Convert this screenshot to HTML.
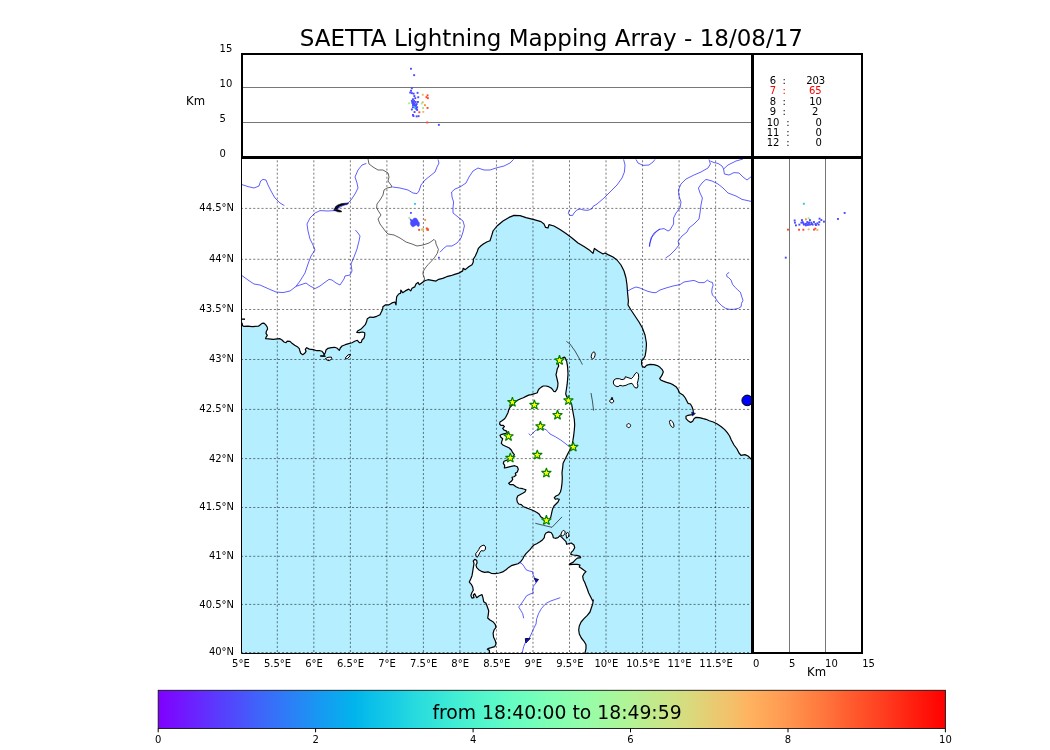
<!DOCTYPE html>
<html><head><meta charset="utf-8"><title>SAETTA Lightning Mapping Array</title>
<style>html,body{margin:0;padding:0;background:#fff}svg{display:block}text{font-family:"DejaVu Sans","Liberation Sans",sans-serif}</style></head><body>
<svg width="1050" height="750" viewBox="0 0 1050 750">
<rect width="1050" height="750" fill="#fff"/>
<defs><linearGradient id="rb" x1="0" x2="1" y1="0" y2="0"><stop offset="0.0%" stop-color="#8000ff"/><stop offset="2.5%" stop-color="#7413ff"/><stop offset="5.0%" stop-color="#6826fe"/><stop offset="7.5%" stop-color="#5a3bfd"/><stop offset="10.0%" stop-color="#4e4dfc"/><stop offset="12.5%" stop-color="#4062fa"/><stop offset="15.0%" stop-color="#3473f8"/><stop offset="17.5%" stop-color="#2884f6"/><stop offset="20.0%" stop-color="#1996f3"/><stop offset="22.5%" stop-color="#0ea5ef"/><stop offset="25.0%" stop-color="#00b5eb"/><stop offset="27.5%" stop-color="#0dc2e8"/><stop offset="30.0%" stop-color="#18cde4"/><stop offset="32.5%" stop-color="#27dade"/><stop offset="35.0%" stop-color="#32e3da"/><stop offset="37.5%" stop-color="#40ecd4"/><stop offset="40.0%" stop-color="#4df3ce"/><stop offset="42.5%" stop-color="#58f8c9"/><stop offset="45.0%" stop-color="#66fcc2"/><stop offset="47.5%" stop-color="#72febb"/><stop offset="50.0%" stop-color="#80ffb4"/><stop offset="52.5%" stop-color="#8cfead"/><stop offset="55.0%" stop-color="#99fca6"/><stop offset="57.5%" stop-color="#a6f89d"/><stop offset="60.0%" stop-color="#b2f396"/><stop offset="62.5%" stop-color="#c0eb8d"/><stop offset="65.0%" stop-color="#cce385"/><stop offset="67.5%" stop-color="#d9da7d"/><stop offset="70.0%" stop-color="#e6cd73"/><stop offset="72.5%" stop-color="#f2c26b"/><stop offset="75.0%" stop-color="#ffb360"/><stop offset="77.5%" stop-color="#ffa558"/><stop offset="80.0%" stop-color="#ff964f"/><stop offset="82.5%" stop-color="#ff8444"/><stop offset="85.0%" stop-color="#ff733b"/><stop offset="87.5%" stop-color="#ff5f30"/><stop offset="90.0%" stop-color="#ff4d27"/><stop offset="92.5%" stop-color="#ff3b1e"/><stop offset="95.0%" stop-color="#ff2613"/><stop offset="97.5%" stop-color="#ff1309"/><stop offset="100.0%" stop-color="#ff0000"/></linearGradient>
<clipPath id="mc"><rect x="241" y="157" width="511" height="497"/></clipPath></defs>
<text x="551.3" y="46" font-size="23" text-anchor="middle">SAETTA Lightning Mapping Array - 18/08/17</text>
<g clip-path="url(#mc)">
<rect x="241" y="157" width="511" height="497" fill="#b4eeff"/>
<path d="M230,150 L230,323 L230,323 L242,323 L242.6,325.8 L244,326.4 L248,326.2 L252,326.6 L258.4,326.2 L260,325 L262,323.4 L264,323.2 L265.6,324.6 L267.2,327 L267.6,329 L266.4,331.2 L266,333.3 L267.3,335.3 L266,337.3 L265.6,338.7 L268.7,338.9 L273.3,339.3 L277.3,338.9 L280,338.7 L282,340 L284,342 L286,342.7 L287.3,341.1 L290,341.3 L292,343.3 L294.7,345.3 L297.3,346.7 L299.3,348.7 L300,351.3 L300.7,353.3 L302.7,354.7 L304.7,353.3 L306,351.3 L305.3,349.3 L306.7,347.7 L309.3,349.1 L313.3,349.6 L316.7,350.7 L320,350.7 L322,351.3 L323.7,353.3 L324,355.3 L325.3,352.7 L326,350 L328,348.3 L331.3,347.7 L334.7,347.3 L337.3,348.3 L339.3,350.4 L340.3,348 L342,346 L345.3,344.7 L348.7,343.7 L352,342.7 L354.7,341.3 L357.3,340.3 L359.3,342.7 L361.3,342.4 L362,340 L364,338 L364.7,335.3 L364.7,332.7 L362.7,332 L359.3,332.7 L356.7,332.3 L358,330.7 L360.7,329.3 L362.7,327.3 L365.3,324.7 L366.7,321.3 L367.3,318.7 L370,317.1 L373.3,317.3 L376.7,316.3 L380,314.7 L381.3,312 L382.7,309.3 L382.9,306.7 L385.3,304.9 L388.7,304.9 L392,302.9 L394.9,302 L396,304.9 L396.3,300 L396.7,296.7 L398.7,294 L400.7,293.1 L400.8,290.1 L402.7,292.7 L405.3,290.9 L408.7,289.1 L410.7,290.9 L412,288.3 L414.7,286.9 L416,284 L418,282.4 L418.9,284 L419.3,284.7 L422,282.7 L424.7,280.7 L428,279.7 L432,280.4 L436,281.1 L438.7,279.3 L442.7,278.4 L446.7,276.7 L450.7,275.7 L454.7,274.4 L458.7,273.1 L462.7,270.9 L463.1,268.4 L465.3,269.6 L468.7,266.7 L472,264.7 L473.3,262 L473.3,259.3 L475.3,256 L477.1,252 L478.4,248.3 L480.7,246 L483.3,244 L486.7,242 L490,240.7 L492,234.6 L493,231 L497,226 L503,221 L509,217.4 L514,215.4 L520,215.6 L526,217.6 L534,219.6 L541,221.6 L544,224 L545.6,227.4 L548,228 L549,224.6 L554,226 L560,229.4 L566,233.6 L572,238 L578,243 L584,246.6 L590,250.6 L593,253.4 L594.4,248.4 L598,251 L603,254 L605,253 L608,254.6 L613,257 L617,260 L621,265 L624,271 L626,278 L627,285 L627.6,293 L628.4,301 L628,305 L631,310 L635,316 L639,322 L642.4,328 L645,335 L646.4,343 L646.4,345.3 L646,350.7 L645.1,356 L643.3,359.3 L641.6,360.7 L641.6,364 L642.4,366.7 L644.7,367.3 L646.4,365.3 L650,364.3 L654,364.7 L657.3,365.6 L660,367.3 L662,369.3 L663.3,371.7 L662.4,374.4 L661.1,376.7 L659.7,378.7 L660.7,380 L663.3,381.1 L666.7,382.4 L670,383.3 L673.3,384.9 L676,386.7 L678,389.3 L679.3,392.7 L681.3,394 L683.3,395.3 L685.3,398 L686.7,400.7 L688,403.3 L690.4,404 L692,406.7 L693.1,410 L693.3,412.7 L692.7,414.7 L690.7,414.9 L688,415.3 L686,416.3 L686,418.7 L688,420.7 L690.7,422.4 L692.7,421.3 L694,418.7 L696,417.3 L699.3,417.7 L703.3,418.7 L706,419.3 L709.3,420.7 L713.3,422 L717.3,424 L721.3,426.7 L724.7,429.6 L727.3,432.7 L729.6,436 L731.3,440 L734,445 L737,449 L739,453 L741,455.4 L745,454.6 L748,456 L751,459 L756,462 L760,462 L760,150Z" fill="#fff"/>
<path d="M230,323 L242,323 L242.6,325.8 L244,326.4 L248,326.2 L252,326.6 L258.4,326.2 L260,325 L262,323.4 L264,323.2 L265.6,324.6 L267.2,327 L267.6,329 L266.4,331.2 L266,333.3 L267.3,335.3 L266,337.3 L265.6,338.7 L268.7,338.9 L273.3,339.3 L277.3,338.9 L280,338.7 L282,340 L284,342 L286,342.7 L287.3,341.1 L290,341.3 L292,343.3 L294.7,345.3 L297.3,346.7 L299.3,348.7 L300,351.3 L300.7,353.3 L302.7,354.7 L304.7,353.3 L306,351.3 L305.3,349.3 L306.7,347.7 L309.3,349.1 L313.3,349.6 L316.7,350.7 L320,350.7 L322,351.3 L323.7,353.3 L324,355.3 L325.3,352.7 L326,350 L328,348.3 L331.3,347.7 L334.7,347.3 L337.3,348.3 L339.3,350.4 L340.3,348 L342,346 L345.3,344.7 L348.7,343.7 L352,342.7 L354.7,341.3 L357.3,340.3 L359.3,342.7 L361.3,342.4 L362,340 L364,338 L364.7,335.3 L364.7,332.7 L362.7,332 L359.3,332.7 L356.7,332.3 L358,330.7 L360.7,329.3 L362.7,327.3 L365.3,324.7 L366.7,321.3 L367.3,318.7 L370,317.1 L373.3,317.3 L376.7,316.3 L380,314.7 L381.3,312 L382.7,309.3 L382.9,306.7 L385.3,304.9 L388.7,304.9 L392,302.9 L394.9,302 L396,304.9 L396.3,300 L396.7,296.7 L398.7,294 L400.7,293.1 L400.8,290.1 L402.7,292.7 L405.3,290.9 L408.7,289.1 L410.7,290.9 L412,288.3 L414.7,286.9 L416,284 L418,282.4 L418.9,284 L419.3,284.7 L422,282.7 L424.7,280.7 L428,279.7 L432,280.4 L436,281.1 L438.7,279.3 L442.7,278.4 L446.7,276.7 L450.7,275.7 L454.7,274.4 L458.7,273.1 L462.7,270.9 L463.1,268.4 L465.3,269.6 L468.7,266.7 L472,264.7 L473.3,262 L473.3,259.3 L475.3,256 L477.1,252 L478.4,248.3 L480.7,246 L483.3,244 L486.7,242 L490,240.7 L492,234.6 L493,231 L497,226 L503,221 L509,217.4 L514,215.4 L520,215.6 L526,217.6 L534,219.6 L541,221.6 L544,224 L545.6,227.4 L548,228 L549,224.6 L554,226 L560,229.4 L566,233.6 L572,238 L578,243 L584,246.6 L590,250.6 L593,253.4 L594.4,248.4 L598,251 L603,254 L605,253 L608,254.6 L613,257 L617,260 L621,265 L624,271 L626,278 L627,285 L627.6,293 L628.4,301 L628,305 L631,310 L635,316 L639,322 L642.4,328 L645,335 L646.4,343 L646.4,345.3 L646,350.7 L645.1,356 L643.3,359.3 L641.6,360.7 L641.6,364 L642.4,366.7 L644.7,367.3 L646.4,365.3 L650,364.3 L654,364.7 L657.3,365.6 L660,367.3 L662,369.3 L663.3,371.7 L662.4,374.4 L661.1,376.7 L659.7,378.7 L660.7,380 L663.3,381.1 L666.7,382.4 L670,383.3 L673.3,384.9 L676,386.7 L678,389.3 L679.3,392.7 L681.3,394 L683.3,395.3 L685.3,398 L686.7,400.7 L688,403.3 L690.4,404 L692,406.7 L693.1,410 L693.3,412.7 L692.7,414.7 L690.7,414.9 L688,415.3 L686,416.3 L686,418.7 L688,420.7 L690.7,422.4 L692.7,421.3 L694,418.7 L696,417.3 L699.3,417.7 L703.3,418.7 L706,419.3 L709.3,420.7 L713.3,422 L717.3,424 L721.3,426.7 L724.7,429.6 L727.3,432.7 L729.6,436 L731.3,440 L734,445 L737,449 L739,453 L741,455.4 L745,454.6 L748,456 L751,459 L756,462" fill="none" stroke="#000" stroke-width="1.2" stroke-linejoin="round"/>
<path d="M559.3,362 L558,363.3 L558.7,366 L557.3,368.7 L556.7,372 L556,374.7 L556.7,377.3 L557.3,380 L558,383.3 L557.7,386.7 L556.7,389.7 L555.3,391.6 L553.7,391.3 L552.7,389.7 L551.1,388 L548.7,386.7 L546,386 L543.3,386 L541.3,387.1 L539.3,388.7 L538,390.7 L537.3,392.7 L534.7,393.7 L531.3,394.7 L528.7,395.1 L526,396.4 L523.3,397.7 L520.7,398.7 L518,400 L516,401.3 L514,403.3 L512,405.3 L510,407.3 L508.7,410 L508,412.7 L506.7,415.3 L505.7,417.3 L504,419.3 L502,420.7 L500,422 L499.6,424 L500.9,425.3 L503.3,425.3 L504.4,426.7 L502.7,428.4 L504,430 L506.7,431.1 L507.3,432.7 L504.7,433.7 L502,434.3 L500,435.3 L500.9,437.3 L502.7,438.7 L502,440.7 L501.3,443.3 L503.3,445.3 L506.7,446.7 L509.3,448 L511.3,450 L512.7,452.7 L514.3,454.7 L513.3,456.7 L511.3,458.7 L507.3,460 L504,461.3 L503.3,463.3 L504.7,465.3 L504.4,468 L507.3,467.3 L511.3,466.3 L514.7,465.7 L517.3,466.7 L518.3,469.3 L517.3,472 L515.3,473.3 L516,475.3 L514,476.7 L512,477.3 L512.7,479.3 L511.3,481.3 L508.7,483.3 L510,484.7 L513.3,484.7 L516,486.7 L518.7,488 L522.7,488.7 L526,489.7 L524.9,492 L522.7,493.3 L520,494.7 L517.7,496 L516.7,498.7 L517.3,502 L518.7,504 L521.3,504.7 L523.3,506.7 L526,507.6 L528.7,508.7 L532,510 L534.7,511.3 L537.3,512.7 L539.3,514.3 L540.7,516.7 L542.7,518 L544.7,520 L546.7,522 L549.3,519.6 L550.7,517.3 L551.3,514.7 L552,511.3 L552.7,508.7 L554,506 L556,504 L558,502 L559.3,499.3 L557.3,498.7 L555.3,499.3 L554.3,497.7 L556,496 L558.7,494.7 L560.4,492 L561.3,488.7 L562,483.3 L562.3,478 L562,472.7 L562.7,467.3 L563.1,463.3 L564.7,460 L566.7,456 L568.7,452 L570.7,448.7 L572,445.3 L572.9,440.7 L573.7,435.3 L574.3,430 L574.7,424.7 L574.3,419.3 L573.3,414 L572.4,408.7 L571.6,404 L570,401.3 L568,398.7 L566.7,396.7 L565.7,394 L566.3,390 L567.1,384.7 L567.6,379.3 L568,374 L567.7,368.7 L567.6,367.1 L567.3,364.9 L566.9,362.8 L566.7,361.2 L566,360.1 L565.7,359.1 L565.3,358 L564.4,357.1 L562,358.3Z" fill="#fff" stroke="#000" stroke-width="1.2" stroke-linejoin="round"/>
<path d="M489.6,654.7 L489.6,652.7 L489.3,650.4 L487.3,649.3 L488.7,648.3 L491.3,647.7 L494.7,646.7 L496,644 L495.3,640.7 L493.6,637.3 L493.1,633.3 L494,630 L496,627.3 L495.3,624.7 L493.3,622 L490,620 L487.7,618 L488.3,614.7 L488.7,610.7 L487.3,606.7 L486,603.3 L483.7,601.7 L482.9,597.7 L482,594.6 L479.3,595.7 L476.7,597.7 L475.7,595.7 L474.7,593.7 L473.3,595 L474,597.7 L472,598.1 L470.9,595.7 L471.7,593 L473.3,590.3 L472.7,587 L471.3,584.3 L469.3,582.1 L470.7,579 L472,575.7 L472.7,571.7 L473.3,567.7 L474,563.7 L473.3,561 L474.7,559.4 L476.7,560.3 L477.1,563 L476,565 L476.7,567.7 L478.7,569.7 L481.3,571.3 L484.7,572.3 L488,571.9 L491.3,573.3 L495.3,573.7 L499.3,573 L502.7,571.9 L506,569.7 L508.7,567.4 L511.3,565.7 L514.7,564.7 L518,563.7 L520.7,561.7 L522.7,559 L524,556.3 L526,553.7 L528,551.7 L530,549.7 L532,547 L534,545 L536.7,543.7 L540,541.7 L542.7,539.7 L544.3,537.7 L544.7,535 L546,533 L548.7,531.9 L551.3,532.7 L552.7,535 L553.3,537.7 L555.3,538.3 L558,537.7 L560,535.7 L562,537.7 L564,539.7 L566,541.7 L566.7,544.3 L568.7,543.7 L571.3,543 L574,545 L574.7,547.7 L573.3,550.3 L571.3,552.3 L570.7,554.3 L573.3,555 L576.7,555.4 L580,556.3 L580.7,557.7 L577.3,558.1 L575.3,559.9 L573.3,562.1 L570,563.7 L569.3,564.7 L573.3,564.3 L577.3,564.3 L580,565 L579.3,567 L581.3,568.3 L584,570.3 L586,571.7 L584,573.7 L582.7,576.3 L583.3,579.7 L584.7,582.3 L586,585.7 L587.3,589 L588.7,593 L590.7,597 L592.7,601 L593.3,600 L592.7,604 L591.3,608 L590,612 L587.3,615.3 L584,618.7 L581.1,622 L579.3,626 L578.7,630 L579.3,634 L581.3,638 L584,641.3 L586,644.7 L586,648.7 L585.1,652.7 L585.1,654.7" fill="#fff" stroke="#000" stroke-width="1.2" stroke-linejoin="round"/>
<path d="M476,556.3 L475.7,553.7 L477.3,551.7 L478.7,549.7 L480,547 L482,545.7 L484,545 L485.6,547 L485.3,549.7 L483.3,551 L481.3,550.6 L480,552.3 L478.7,555 L477.3,557.3Z" fill="#fff" stroke="#000" stroke-width="1" stroke-linejoin="round"/>
<path d="M560.7,535 L562,531.7 L563.3,530.3 L565.3,531.7 L564.7,534.3 L562.7,535.9Z" fill="#fff" stroke="#000" stroke-width="1" stroke-linejoin="round"/>
<path d="M566,534.3 L567.3,532.3 L569.1,533.7 L568.3,537 L566.7,538.3Z" fill="#fff" stroke="#000" stroke-width="1" stroke-linejoin="round"/>
<path d="M613.3,382 L614,380 L616,378.7 L619.3,378.7 L622,379.7 L624.7,378.9 L625.3,376.7 L628,377.6 L631.3,378.7 L633.3,376.7 L634.9,374 L636.7,372.3 L638.4,374 L638.7,377.3 L638,380.7 L637.3,383.3 L638,386 L637.1,388 L634.9,387.7 L633.3,385.3 L632,383.3 L628.7,384 L626,385.3 L622.7,386 L620,385.3 L618,386.7 L615.3,386 L613.6,384Z" fill="#fff" stroke="#000" stroke-width="1" stroke-linejoin="round"/>
<path d="M594.9,355.9 L594.2,357.5 L593.3,358.6 L592.3,358.9 L591.5,358.2 L591.2,356.7 L591.5,354.9 L592.2,353.3 L593.1,352.2 L594.1,351.9 L594.9,352.6 L595.2,354.1Z" fill="#fff" stroke="#000" stroke-width="1" stroke-linejoin="round"/>
<path d="M613.7,401.1 L613.5,402 L612.7,402.6 L611.7,402.9 L610.7,402.6 L610,402 L609.7,401.1 L610,400.2 L610.7,399.5 L611.7,399.3 L612.7,399.5 L613.5,400.2Z" fill="#fff" stroke="#000" stroke-width="1" stroke-linejoin="round"/>
<path d="M611.2,399.5 L611.5,397.6 L612.5,397.6 L612.7,399.5Z" fill="#fff" stroke="#000" stroke-width="1" stroke-linejoin="round"/>
<path d="M630.6,425.6 L630.3,426.6 L629.6,427.3 L628.7,427.6 L627.7,427.3 L627,426.6 L626.8,425.6 L627,424.6 L627.7,423.9 L628.7,423.6 L629.6,423.9 L630.3,424.6Z" fill="#fff" stroke="#000" stroke-width="1" stroke-linejoin="round"/>
<path d="M673.3,423.1 L673.9,425 L673.9,426.6 L673.4,427.4 L672.4,427.3 L671.2,426.3 L670.2,424.6 L669.6,422.7 L669.5,421.2 L670.1,420.3 L671.1,420.4 L672.2,421.5Z" fill="#fff" stroke="#000" stroke-width="1" stroke-linejoin="round"/>
<path d="M325.3,358.7 L328,357.3 L331.3,357.1 L332,358.7 L329.3,360.7 L327.3,360.3Z" fill="#fff" stroke="#000" stroke-width="1" stroke-linejoin="round"/>
<path d="M345.3,358 L348,354.9 L350.4,354.4 L350,356 L347.3,358.7 L345.6,358.9Z" fill="#fff" stroke="#000" stroke-width="1" stroke-linejoin="round"/>
<path d="M320.4,355.7 L325.3,355.9 L325.3,356.4 L320.4,356.3Z" fill="#fff" stroke="#000" stroke-width="1" stroke-linejoin="round"/>
<path d="M241,319.15 L245,319.15" stroke="#000" stroke-width="1.4"/>
<path d="M333.6,210.4 L335.6,206.5 L337.8,204.9 L341.6,203.6 L345.5,203.2 L348,203 L348.4,203.8 L346.8,204.6 L342.9,205.2 L339.4,206.5 L337.8,208.4 L337.2,209.6 L339.1,210 L341.3,211 L342,211.6 L340.4,212 L337.8,211.8 L335.9,211 L334.3,210.7Z" fill="#000" stroke="#000" stroke-width="0.5" stroke-linejoin="round"/>
<circle cx="335.6" cy="209.5" r="0.6" fill="#00f"/><circle cx="336.6" cy="207.5" r="0.5" fill="#00f"/><circle cx="337.8" cy="206.2" r="0.5" fill="#00f"/>
<circle cx="747.2" cy="400.4" r="5.3" fill="#00f" stroke="#000" stroke-width="1"/>
<path d="M691.6,412.4 L695.4,413.4 L692.6,415.8 Z" fill="#00f" stroke="#000" stroke-width="0.7" stroke-linejoin="round"/>
<path d="M534.2,578.3 L538.5,579.5 L536.2,582.3 Z" fill="#00f" stroke="#000" stroke-width="0.9" stroke-linejoin="round"/>
<path d="M525.3,638.6 L530.3,638.4 L525.8,643 Z" fill="#00f" stroke="#000" stroke-width="0.9" stroke-linejoin="round"/>
<path d="M368,159 L369,164 L373,167 L378,170 L383,170 L388,173 L389,177 L388,181 L391,185 L392,187 L387,188 L384,190 L383,195 L380,200 L377,204 L376.6,208 L379,212 L381,215 L378,219 L380,224 L383,228 L386,232 L388,234 L394,235 L400,238 L406,242 L412,244 L417,246 L423,245 L429,243 L432,241 L434,239.4 L435.6,241 L436,244 L438.4,249.3 L437.3,253.3 L434.7,257.3 L431.3,261.3 L428,264.7 L425.3,268 L423.3,271.3 L422.9,274 L424.3,277.3 L424.7,280.3" fill="none" stroke="#222" stroke-width="0.7" stroke-linejoin="round"/>
<path d="M566.4,341.4 L570,344 L575,351 L579,358 L582.4,364.6" fill="none" stroke="#111" stroke-width="0.7"/>
<path d="M591,393 L592.4,401 L593.6,410.6" fill="none" stroke="#111" stroke-width="0.7"/>
<path d="M535.3,523.3 L543.3,525.3 L552,527.3 L562,516.9" fill="none" stroke="#111" stroke-width="0.7"/>
<path d="M242,184.6 L248,186.6 L254,188 L259,186 L260.6,181 L263,179.4 L266,180 L268,185 L271,191 L275,198 L280,203 L284.4,205.6" fill="none" stroke="#1a1aff" stroke-width="0.7" stroke-linejoin="round"/>
<path d="M366.4,163.4 L362,165 L358,170 L355,177 L357,183 L358,188 L355,194 L351,200 L348,203 L341,206.6 L334,210.6 L328,211 L320,210.6 L315,213 L310,218 L307,224 L308,231 L310,239 L313,245 L315,250 L311,256 L308,264 L305,273 L300,281 L296,286.4 L290,291 L283,292.6 L276,292 L268,288.6 L260,285 L254,284 L248,280 L242,275.6" fill="none" stroke="#1a1aff" stroke-width="0.7" stroke-linejoin="round"/>
<path d="M296,286.4 L300,285 L306,283 L310,286 L315,288.6 L320,286 L324,283 L329,279.4 L332,280 L336,283 L340,285 L344,279 L345,276 L350,275 L352,271 L351,264 L354,257 L357,249 L359,241 L360,236 L358,233 L355.4,230" fill="none" stroke="#1a1aff" stroke-width="0.7" stroke-linejoin="round"/>
<path d="M438,159.4 L439,163 L437,167 L435,172 L430,176 L425,180 L421,185 L419,191 L417,193.6 L413,193 L408,190 L400,188 L392.4,187" fill="none" stroke="#1a1aff" stroke-width="0.7" stroke-linejoin="round"/>
<path d="M452,246 L446.7,246 L443.3,248.7 L440,252.3" fill="none" stroke="#1a1aff" stroke-width="0.7" stroke-linejoin="round"/>
<path d="M513.6,159.4 L510,163 L504,166 L496,168 L490,170 L484,170 L478,168 L473,171 L469,177 L466,183 L460,187 L455,189 L451.6,192 L452,197 L453.6,202 L453,208 L453,213 L458,217 L463,221 L464.4,226 L463,232 L461,238 L457,243 L452,246" fill="none" stroke="#1a1aff" stroke-width="0.7" stroke-linejoin="round"/>
<path d="M623.6,159.4 L625,165 L624.4,172 L622,178 L617,185 L610,192 L604,198 L597,204 L593,206.4 L592,208.7 L588,210.3 L584,210.1 L580,209 L576.7,210.1 L574,213 L572.7,215.4 L570,215.4 L568.4,213.7 L568.9,211 L570,209.7" fill="none" stroke="#1a1aff" stroke-width="0.7" stroke-linejoin="round"/>
<path d="M636,159.4 L638,163 L643,165.4 L649,165 L653,162 L655,159.4" fill="none" stroke="#1a1aff" stroke-width="0.7" stroke-linejoin="round"/>
<path d="M660,229 L656,232 L652,237 L650,243 L649.6,246.6" fill="none" stroke="#1a1aff" stroke-width="0.7" stroke-linejoin="round"/>
<path d="M709,159.4 L710.4,164 L708,168 L701,172 L694,175 L686,179 L681,184 L678.4,190 L679,196 L681,202 L680,208 L676,213 L673.6,218 L673.6,224 L670,230 L668,231 L664,228.6 L659,229.4 L654,233 L651,238 L649.6,244 L649.4,246.6" fill="none" stroke="#1a1aff" stroke-width="0.7" stroke-linejoin="round"/>
<path d="M665.6,258 L670,255 L675,250 L679,245 L678,241 L682,236 L687,232 L689,228 L694,224 L699,219 L700,213 L701,205 L702.4,198 L700,193 L698.4,188 L702,183 L706,179.4 L712,181 L718,184 L723,188 L728,193 L736,196 L742,199.4 L752,201.6" fill="none" stroke="#1a1aff" stroke-width="0.7" stroke-linejoin="round"/>
<path d="M710.4,161 L714,162.6 L718,163.4 L722,166 L723.6,169 L728,165 L736,161 L743,159" fill="none" stroke="#1a1aff" stroke-width="0.7" stroke-linejoin="round"/>
<path d="M723.6,169 L724.4,174 L729,175 L734,172.6 L739,173 L743,177 L747,180 L752,176" fill="none" stroke="#1a1aff" stroke-width="0.7" stroke-linejoin="round"/>
<path d="M627,291.4 L632,288.6 L636,287 L640,288 L643,289.4 L648,291.4 L653,292.6 L656,292.6 L660,290 L666,288 L673,286 L680,284.6 L684,282 L690,281 L694,280.4 L699,282.6 L704,282.6 L704.9,282.2 L707.3,280.1 L710.1,281.9 L712.4,282.4 L713.1,285.2 L712.2,288 L711.7,291.7 L712.4,295 L715.2,297.8 L718,302 L721.7,305.7 L725.5,308.3 L729.2,309.3 L733.9,309.3 L738.5,308.3 L741.1,306.7 L741.5,303.4 L743,300.3 L741.8,296.9 L740.4,292.2 L738.1,290.3 L735.3,287.5 L732.5,284.3 L731.1,280.1 L728.7,277.7 L726.9,276.6 L726.6,274.5 L727.8,273.1 L729.2,272.6" fill="none" stroke="#1a1aff" stroke-width="0.7" stroke-linejoin="round"/>
<path d="M528.7,433.7 L530.7,435.3 L532.7,433.3 L535.3,430.7 L538.7,428.9 L542.7,428.4 L546,429.7 L548.4,432 L550,434 L555.3,436.7 L560.7,440 L566,444 L570,447.3" fill="none" stroke="#1a1aff" stroke-width="0.7" stroke-linejoin="round"/>
<path d="M519.3,562.3 L522,563.7 L524,566.3 L526,569.7 L529.3,571 L532.7,571.7 L533.1,575 L534.7,577.7 L536,579.7 L536,583 L533.3,586.3 L532.7,590.3 L533.3,593 L530,594.1 L526.7,595.7 L524,599.7 L521.3,603.7 L518.7,607 L520.7,610.3 L522.7,613.7 L523.7,618.3" fill="none" stroke="#1a1aff" stroke-width="0.7" stroke-linejoin="round"/>
<path d="M560.3,597.7 L555.3,599.4 L550.7,601 L546.7,603 L544.7,604.7 L541.3,608.7 L538.7,613.3 L536.7,618.7 L536,624 L533.3,629.3 L531.3,634 L529.3,638 L525.3,642.7 L523.7,646.7 L522.7,650.7 L522,653.3" fill="none" stroke="#1a1aff" stroke-width="0.7" stroke-linejoin="round"/>
<path d="M277.31,652.05 V157" stroke="#000" stroke-opacity="0.52" stroke-width="1" stroke-dasharray="2.06 2.055" fill="none"/>
<path d="M313.83,652.05 V157" stroke="#000" stroke-opacity="0.52" stroke-width="1" stroke-dasharray="2.06 2.055" fill="none"/>
<path d="M350.36,652.05 V157" stroke="#000" stroke-opacity="0.52" stroke-width="1" stroke-dasharray="2.06 2.055" fill="none"/>
<path d="M386.88,652.05 V157" stroke="#000" stroke-opacity="0.52" stroke-width="1" stroke-dasharray="2.06 2.055" fill="none"/>
<path d="M423.40,652.05 V157" stroke="#000" stroke-opacity="0.52" stroke-width="1" stroke-dasharray="2.06 2.055" fill="none"/>
<path d="M459.93,652.05 V157" stroke="#000" stroke-opacity="0.52" stroke-width="1" stroke-dasharray="2.06 2.055" fill="none"/>
<path d="M496.45,652.05 V157" stroke="#000" stroke-opacity="0.52" stroke-width="1" stroke-dasharray="2.06 2.055" fill="none"/>
<path d="M532.98,652.05 V157" stroke="#000" stroke-opacity="0.52" stroke-width="1" stroke-dasharray="2.06 2.055" fill="none"/>
<path d="M569.50,652.05 V157" stroke="#000" stroke-opacity="0.52" stroke-width="1" stroke-dasharray="2.06 2.055" fill="none"/>
<path d="M606.03,652.05 V157" stroke="#000" stroke-opacity="0.52" stroke-width="1" stroke-dasharray="2.06 2.055" fill="none"/>
<path d="M642.55,652.05 V157" stroke="#000" stroke-opacity="0.52" stroke-width="1" stroke-dasharray="2.06 2.055" fill="none"/>
<path d="M679.08,652.05 V157" stroke="#000" stroke-opacity="0.52" stroke-width="1" stroke-dasharray="2.06 2.055" fill="none"/>
<path d="M715.61,652.05 V157" stroke="#000" stroke-opacity="0.52" stroke-width="1" stroke-dasharray="2.06 2.055" fill="none"/>
<path d="M240.9,208.4 H752" stroke="#000" stroke-opacity="0.52" stroke-width="1" stroke-dasharray="2.06 2.055" fill="none"/>
<path d="M240.9,259.3 H752" stroke="#000" stroke-opacity="0.52" stroke-width="1" stroke-dasharray="2.06 2.055" fill="none"/>
<path d="M240.9,309.5 H752" stroke="#000" stroke-opacity="0.52" stroke-width="1" stroke-dasharray="2.06 2.055" fill="none"/>
<path d="M240.9,359.5 H752" stroke="#000" stroke-opacity="0.52" stroke-width="1" stroke-dasharray="2.06 2.055" fill="none"/>
<path d="M240.9,409.4 H752" stroke="#000" stroke-opacity="0.52" stroke-width="1" stroke-dasharray="2.06 2.055" fill="none"/>
<path d="M240.9,458.6 H752" stroke="#000" stroke-opacity="0.52" stroke-width="1" stroke-dasharray="2.06 2.055" fill="none"/>
<path d="M240.9,507.5 H752" stroke="#000" stroke-opacity="0.52" stroke-width="1" stroke-dasharray="2.06 2.055" fill="none"/>
<path d="M240.9,556.3 H752" stroke="#000" stroke-opacity="0.52" stroke-width="1" stroke-dasharray="2.06 2.055" fill="none"/>
<path d="M240.9,604.4 H752" stroke="#000" stroke-opacity="0.52" stroke-width="1" stroke-dasharray="2.06 2.055" fill="none"/>
<path d="M240.9,652.5 H752" stroke="#000" stroke-opacity="0.52" stroke-width="1" stroke-dasharray="2.06 2.055" fill="none"/>
<path d="M410,219.2 L410.8,218.8 L411.9,219.9 L413.2,219.2 L413.9,218.1 L415.4,218 L416.7,218.6 L417.7,219.9 L418.4,221.4 L419.4,222.7 L419.5,224.4 L419.2,226.1 L418.2,226.7 L417.1,225.7 L416.4,225 L415.1,225.7 L413.6,226.7 L412.3,226.7 L411.1,225.5 L410.4,224 L410.4,222.4 L410.8,220.9 L410,219.9Z" fill="#4a4aff" stroke="#4a4aff" stroke-width="0.4" stroke-linejoin="round"/>
<rect x="414.1" y="203.0" width="1.8" height="1.8" fill="#1ec8e6"/>
<rect x="410.0" y="212.0" width="1.8" height="1.8" fill="#4a4aff"/>
<rect x="408.4" y="217.0" width="1.8" height="1.8" fill="#9df08c"/>
<rect x="424.2" y="218.9" width="1.9" height="1.9" fill="#ff8c46"/>
<rect x="418.2" y="228.9" width="1.9" height="1.9" fill="#ff4628"/>
<rect x="420.9" y="228.6" width="1.9" height="1.9" fill="#9df08c"/>
<rect x="421.7" y="228.3" width="2.4" height="2.4" fill="#e0be64"/>
<rect x="426.5" y="228.4" width="2.4" height="2.4" fill="#ff4628"/>
<rect x="425.8" y="227.5" width="2.0" height="2.0" fill="#ff4628"/>
<rect x="438.0" y="256.8" width="1.8" height="1.8" fill="#4a4aff"/>
<path d="M559.5,355.3 L560.66,358.8 L564.35,358.82 L561.38,361.01 L562.5,364.53 L559.5,362.38 L556.5,364.53 L557.62,361.01 L554.65,358.82 L558.34,358.8Z" fill="#ffff00" stroke="#008000" stroke-width="1.12" stroke-linejoin="bevel"/>
<path d="M512.4,397.1 L513.56,400.6 L517.25,400.62 L514.28,402.81 L515.4,406.33 L512.4,404.18 L509.4,406.33 L510.52,402.81 L507.55,400.62 L511.24,400.6Z" fill="#ffff00" stroke="#008000" stroke-width="1.12" stroke-linejoin="bevel"/>
<path d="M534.4,399.9 L535.56,403.4 L539.25,403.42 L536.28,405.61 L537.4,409.13 L534.4,406.98 L531.4,409.13 L532.52,405.61 L529.55,403.42 L533.24,403.4Z" fill="#ffff00" stroke="#008000" stroke-width="1.12" stroke-linejoin="bevel"/>
<path d="M568.4,395.4 L569.56,398.9 L573.25,398.92 L570.28,401.11 L571.4,404.63 L568.4,402.48 L565.4,404.63 L566.52,401.11 L563.55,398.92 L567.24,398.9Z" fill="#ffff00" stroke="#008000" stroke-width="1.12" stroke-linejoin="bevel"/>
<path d="M557.5,410 L558.66,413.5 L562.35,413.52 L559.38,415.71 L560.5,419.23 L557.5,417.08 L554.5,419.23 L555.62,415.71 L552.65,413.52 L556.34,413.5Z" fill="#ffff00" stroke="#008000" stroke-width="1.12" stroke-linejoin="bevel"/>
<path d="M540.4,421.3 L541.56,424.8 L545.25,424.82 L542.28,427.01 L543.4,430.53 L540.4,428.38 L537.4,430.53 L538.52,427.01 L535.55,424.82 L539.24,424.8Z" fill="#ffff00" stroke="#008000" stroke-width="1.12" stroke-linejoin="bevel"/>
<path d="M508.5,431.2 L509.66,434.7 L513.35,434.72 L510.38,436.91 L511.5,440.43 L508.5,438.28 L505.5,440.43 L506.62,436.91 L503.65,434.72 L507.34,434.7Z" fill="#ffff00" stroke="#008000" stroke-width="1.12" stroke-linejoin="bevel"/>
<path d="M573.3,441.9 L574.46,445.4 L578.15,445.42 L575.18,447.61 L576.3,451.13 L573.3,448.98 L570.3,451.13 L571.42,447.61 L568.45,445.42 L572.14,445.4Z" fill="#ffff00" stroke="#008000" stroke-width="1.12" stroke-linejoin="bevel"/>
<path d="M537.3,449.9 L538.46,453.4 L542.15,453.42 L539.18,455.61 L540.3,459.13 L537.3,456.98 L534.3,459.13 L535.42,455.61 L532.45,453.42 L536.14,453.4Z" fill="#ffff00" stroke="#008000" stroke-width="1.12" stroke-linejoin="bevel"/>
<path d="M510.3,452.9 L511.46,456.4 L515.15,456.42 L512.18,458.61 L513.3,462.13 L510.3,459.98 L507.3,462.13 L508.42,458.61 L505.45,456.42 L509.14,456.4Z" fill="#ffff00" stroke="#008000" stroke-width="1.12" stroke-linejoin="bevel"/>
<path d="M546.4,467.9 L547.56,471.4 L551.25,471.42 L548.28,473.61 L549.4,477.13 L546.4,474.98 L543.4,477.13 L544.52,473.61 L541.55,471.42 L545.24,471.4Z" fill="#ffff00" stroke="#008000" stroke-width="1.12" stroke-linejoin="bevel"/>
<path d="M546.4,515.3 L547.56,518.8 L551.25,518.82 L548.28,521.01 L549.4,524.53 L546.4,522.38 L543.4,524.53 L544.52,521.01 L541.55,518.82 L545.24,518.8Z" fill="#ffff00" stroke="#008000" stroke-width="1.12" stroke-linejoin="bevel"/>
</g>
<path d="M241.5,157.5 V653.5 H752" fill="none" stroke="#000" stroke-width="1"/>
<path d="M242,87.5 H752" stroke="#777" stroke-width="1"/>
<path d="M242,122.5 H752" stroke="#777" stroke-width="1"/>
<path d="M789.5,158 V653" stroke="#777" stroke-width="1"/>
<path d="M825.5,158 V653" stroke="#777" stroke-width="1"/>
<rect x="410.0" y="67.8" width="1.9" height="1.9" fill="#4a4aff"/>
<rect x="413.2" y="74.2" width="1.9" height="1.9" fill="#4a4aff"/>
<rect x="410.9" y="87.3" width="1.9" height="1.9" fill="#4a4aff"/>
<rect x="410.1" y="89.8" width="1.9" height="1.9" fill="#4a4aff"/>
<rect x="409.3" y="91.6" width="1.9" height="1.9" fill="#4a4aff"/>
<rect x="410.9" y="92.2" width="1.9" height="1.9" fill="#4a4aff"/>
<rect x="412.7" y="92.7" width="1.9" height="1.9" fill="#4a4aff"/>
<rect x="416.6" y="91.9" width="1.9" height="1.9" fill="#4a4aff"/>
<rect x="413.4" y="95.1" width="1.9" height="1.9" fill="#4a4aff"/>
<rect x="417.3" y="96.3" width="1.9" height="1.9" fill="#4a4aff"/>
<rect x="414.3" y="97.2" width="1.9" height="1.9" fill="#4a4aff"/>
<rect x="412.0" y="98.3" width="1.9" height="1.9" fill="#4a4aff"/>
<rect x="410.9" y="99.9" width="1.9" height="1.9" fill="#4a4aff"/>
<rect x="413.1" y="99.9" width="1.9" height="1.9" fill="#4a4aff"/>
<rect x="414.7" y="101.0" width="1.9" height="1.9" fill="#4a4aff"/>
<rect x="417.0" y="101.0" width="1.9" height="1.9" fill="#4a4aff"/>
<rect x="411.4" y="102.0" width="1.9" height="1.9" fill="#4a4aff"/>
<rect x="413.6" y="102.6" width="1.9" height="1.9" fill="#4a4aff"/>
<rect x="415.7" y="103.1" width="1.9" height="1.9" fill="#4a4aff"/>
<rect x="412.0" y="104.2" width="1.9" height="1.9" fill="#4a4aff"/>
<rect x="414.1" y="104.7" width="1.9" height="1.9" fill="#4a4aff"/>
<rect x="416.2" y="106.3" width="1.9" height="1.9" fill="#4a4aff"/>
<rect x="412.0" y="106.3" width="1.9" height="1.9" fill="#4a4aff"/>
<rect x="414.7" y="107.4" width="1.9" height="1.9" fill="#4a4aff"/>
<rect x="410.9" y="108.5" width="1.9" height="1.9" fill="#4a4aff"/>
<rect x="416.2" y="109.0" width="1.9" height="1.9" fill="#4a4aff"/>
<rect x="413.6" y="111.1" width="1.9" height="1.9" fill="#4a4aff"/>
<rect x="412.0" y="114.0" width="1.9" height="1.9" fill="#4a4aff"/>
<rect x="412.5" y="115.1" width="1.9" height="1.9" fill="#4a4aff"/>
<rect x="415.7" y="115.4" width="1.9" height="1.9" fill="#4a4aff"/>
<rect x="417.6" y="115.2" width="1.9" height="1.9" fill="#4a4aff"/>
<rect x="437.9" y="123.9" width="1.9" height="1.9" fill="#4a4aff"/>
<rect x="412.7" y="101.5" width="1.9" height="1.9" fill="#4a4aff"/>
<rect x="412.3" y="102.9" width="1.9" height="1.9" fill="#4a4aff"/>
<rect x="413.4" y="104.0" width="1.9" height="1.9" fill="#4a4aff"/>
<rect x="415.1" y="104.2" width="1.9" height="1.9" fill="#4a4aff"/>
<rect x="411.7" y="101.0" width="1.9" height="1.9" fill="#4a4aff"/>
<rect x="414.7" y="105.8" width="1.9" height="1.9" fill="#4a4aff"/>
<rect x="415.5" y="107.9" width="1.9" height="1.9" fill="#4a4aff"/>
<rect x="413.9" y="106.5" width="1.9" height="1.9" fill="#1ec8e6"/>
<rect x="408.2" y="102.3" width="1.9" height="1.9" fill="#9df08c"/>
<rect x="420.8" y="102.6" width="1.9" height="1.9" fill="#9df08c"/>
<rect x="422.1" y="107.1" width="1.9" height="1.9" fill="#9df08c"/>
<rect x="421.8" y="93.8" width="1.9" height="1.9" fill="#e0be64"/>
<rect x="421.8" y="101.3" width="1.9" height="1.9" fill="#e0be64"/>
<rect x="422.3" y="110.9" width="1.9" height="1.9" fill="#e0be64"/>
<rect x="424.0" y="104.2" width="1.9" height="1.9" fill="#ff8c46"/>
<rect x="426.6" y="94.4" width="1.9" height="1.9" fill="#ff4628"/>
<rect x="425.5" y="96.2" width="1.9" height="1.9" fill="#ff4628"/>
<rect x="426.9" y="97.2" width="1.9" height="1.9" fill="#ff4628"/>
<rect x="426.6" y="107.0" width="1.9" height="1.9" fill="#ff4628"/>
<rect x="418.4" y="111.3" width="1.9" height="1.9" fill="#ff4628"/>
<rect x="426.3" y="121.5" width="1.9" height="1.9" fill="#ff4628"/>
<rect x="802.9" y="202.8" width="1.9" height="1.9" fill="#1ec8e6"/>
<rect x="843.7" y="212.0" width="1.9" height="1.9" fill="#4a4aff"/>
<rect x="837.0" y="218.0" width="1.9" height="1.9" fill="#4a4aff"/>
<rect x="784.8" y="256.7" width="1.9" height="1.9" fill="#4a4aff"/>
<rect x="793.7" y="219.5" width="1.9" height="1.9" fill="#4a4aff"/>
<rect x="794.0" y="221.7" width="1.9" height="1.9" fill="#4a4aff"/>
<rect x="795.0" y="224.4" width="1.9" height="1.9" fill="#4a4aff"/>
<rect x="798.4" y="223.7" width="1.9" height="1.9" fill="#4a4aff"/>
<rect x="801.0" y="219.1" width="1.9" height="1.9" fill="#4a4aff"/>
<rect x="801.7" y="221.1" width="1.9" height="1.9" fill="#4a4aff"/>
<rect x="802.4" y="222.4" width="1.9" height="1.9" fill="#4a4aff"/>
<rect x="804.4" y="223.1" width="1.9" height="1.9" fill="#4a4aff"/>
<rect x="805.0" y="224.4" width="1.9" height="1.9" fill="#4a4aff"/>
<rect x="806.4" y="221.1" width="1.9" height="1.9" fill="#4a4aff"/>
<rect x="807.7" y="222.4" width="1.9" height="1.9" fill="#4a4aff"/>
<rect x="809.0" y="223.7" width="1.9" height="1.9" fill="#4a4aff"/>
<rect x="809.0" y="219.1" width="1.9" height="1.9" fill="#4a4aff"/>
<rect x="810.4" y="221.7" width="1.9" height="1.9" fill="#4a4aff"/>
<rect x="811.7" y="223.7" width="1.9" height="1.9" fill="#4a4aff"/>
<rect x="813.0" y="221.1" width="1.9" height="1.9" fill="#4a4aff"/>
<rect x="814.4" y="223.1" width="1.9" height="1.9" fill="#4a4aff"/>
<rect x="816.4" y="222.4" width="1.9" height="1.9" fill="#4a4aff"/>
<rect x="817.7" y="223.7" width="1.9" height="1.9" fill="#4a4aff"/>
<rect x="818.4" y="221.1" width="1.9" height="1.9" fill="#4a4aff"/>
<rect x="818.6" y="217.7" width="1.9" height="1.9" fill="#4a4aff"/>
<rect x="820.4" y="219.1" width="1.9" height="1.9" fill="#4a4aff"/>
<rect x="823.0" y="220.7" width="1.9" height="1.9" fill="#4a4aff"/>
<rect x="803.0" y="223.7" width="1.9" height="1.9" fill="#4a4aff"/>
<rect x="805.7" y="222.7" width="1.9" height="1.9" fill="#4a4aff"/>
<rect x="807.0" y="224.0" width="1.9" height="1.9" fill="#4a4aff"/>
<rect x="808.4" y="221.5" width="1.9" height="1.9" fill="#4a4aff"/>
<rect x="811.0" y="223.1" width="1.9" height="1.9" fill="#4a4aff"/>
<rect x="815.0" y="224.1" width="1.9" height="1.9" fill="#4a4aff"/>
<rect x="800.4" y="221.7" width="1.9" height="1.9" fill="#4a4aff"/>
<rect x="805.0" y="218.4" width="1.9" height="1.9" fill="#ff8c46"/>
<rect x="807.7" y="217.3" width="1.9" height="1.9" fill="#9df08c"/>
<rect x="787.0" y="228.7" width="1.9" height="1.9" fill="#ff4628"/>
<rect x="798.1" y="228.8" width="1.9" height="1.9" fill="#ff4628"/>
<rect x="802.4" y="228.8" width="1.9" height="1.9" fill="#ff4628"/>
<rect x="813.0" y="228.7" width="1.9" height="1.9" fill="#ff4628"/>
<rect x="814.4" y="227.7" width="1.9" height="1.9" fill="#ff4628"/>
<rect x="807.7" y="228.4" width="1.9" height="1.9" fill="#e0be64"/>
<rect x="816.4" y="229.1" width="1.9" height="1.9" fill="#e0be64"/>
<path d="M242,157.5 V54 H862 V653 H752.5" fill="none" stroke="#000" stroke-width="2" stroke-linejoin="miter"/>
<path d="M752.5,53 V654" stroke="#000" stroke-width="3" fill="none"/>
<path d="M241,157.5 H863" stroke="#000" stroke-width="3" fill="none"/>
<text x="219.6" y="51.6" font-size="10" text-anchor="start">15</text>
<text x="219.6" y="87.0" font-size="10" text-anchor="start">10</text>
<text x="219.6" y="121.8" font-size="10" text-anchor="start">5</text>
<text x="219.6" y="156.79999999999998" font-size="10" text-anchor="start">0</text>
<text x="195.6" y="104.8" font-size="11.7" text-anchor="middle">Km</text>
<text x="234.1" y="211.1" font-size="10" text-anchor="end">44.5°N</text>
<text x="234.1" y="262.1" font-size="10" text-anchor="end">44°N</text>
<text x="234.1" y="312.1" font-size="10" text-anchor="end">43.5°N</text>
<text x="234.1" y="362.40000000000003" font-size="10" text-anchor="end">43°N</text>
<text x="234.1" y="412.1" font-size="10" text-anchor="end">42.5°N</text>
<text x="234.1" y="461.6" font-size="10" text-anchor="end">42°N</text>
<text x="234.1" y="510.40000000000003" font-size="10" text-anchor="end">41.5°N</text>
<text x="234.1" y="559.4" font-size="10" text-anchor="end">41°N</text>
<text x="234.1" y="607.6" font-size="10" text-anchor="end">40.5°N</text>
<text x="234.1" y="654.8000000000001" font-size="10" text-anchor="end">40°N</text>
<text x="240.9" y="666.7" font-size="10" text-anchor="middle">5°E</text>
<text x="277.5" y="666.7" font-size="10" text-anchor="middle">5.5°E</text>
<text x="314.0" y="666.7" font-size="10" text-anchor="middle">6°E</text>
<text x="350.6" y="666.7" font-size="10" text-anchor="middle">6.5°E</text>
<text x="387.1" y="666.7" font-size="10" text-anchor="middle">7°E</text>
<text x="423.7" y="666.7" font-size="10" text-anchor="middle">7.5°E</text>
<text x="460.2" y="666.7" font-size="10" text-anchor="middle">8°E</text>
<text x="496.8" y="666.7" font-size="10" text-anchor="middle">8.5°E</text>
<text x="533.3" y="666.7" font-size="10" text-anchor="middle">9°E</text>
<text x="569.9" y="666.7" font-size="10" text-anchor="middle">9.5°E</text>
<text x="606.4" y="666.7" font-size="10" text-anchor="middle">10°E</text>
<text x="643.0" y="666.7" font-size="10" text-anchor="middle">10.5°E</text>
<text x="679.5" y="666.7" font-size="10" text-anchor="middle">11°E</text>
<text x="716.1" y="666.7" font-size="10" text-anchor="middle">11.5°E</text>
<text x="756.2" y="667" font-size="10" text-anchor="middle">0</text>
<text x="792.1" y="667" font-size="10" text-anchor="middle">5</text>
<text x="831.4" y="667" font-size="10" text-anchor="middle">10</text>
<text x="868.5" y="667" font-size="10" text-anchor="middle">15</text>
<text x="816.6" y="675.6" font-size="11.7" text-anchor="middle">Km</text>
<text x="772.9" y="84" font-size="10" text-anchor="middle">6</text>
<text x="784.3" y="84" font-size="10" text-anchor="middle">:</text>
<text x="815.7" y="84" font-size="10" text-anchor="middle">203</text>
<text x="772.9" y="94" font-size="10" text-anchor="middle" fill="#ff0000">7</text>
<text x="784.3" y="94" font-size="10" text-anchor="middle" fill="#ff0000">:</text>
<text x="815.3" y="94" font-size="10" text-anchor="middle" fill="#ff0000">65</text>
<text x="772.9" y="105" font-size="10" text-anchor="middle">8</text>
<text x="784.3" y="105" font-size="10" text-anchor="middle">:</text>
<text x="815.5" y="105" font-size="10" text-anchor="middle">10</text>
<text x="772.9" y="115" font-size="10" text-anchor="middle">9</text>
<text x="784.3" y="115" font-size="10" text-anchor="middle">:</text>
<text x="815.3" y="115" font-size="10" text-anchor="middle">2</text>
<text x="773" y="126" font-size="10" text-anchor="middle">10</text>
<text x="788" y="126" font-size="10" text-anchor="middle">:</text>
<text x="818.6" y="126" font-size="10" text-anchor="middle">0</text>
<text x="773" y="136" font-size="10" text-anchor="middle">11</text>
<text x="788" y="136" font-size="10" text-anchor="middle">:</text>
<text x="818.6" y="136" font-size="10" text-anchor="middle">0</text>
<text x="773" y="146" font-size="10" text-anchor="middle">12</text>
<text x="788" y="146" font-size="10" text-anchor="middle">:</text>
<text x="818.6" y="146" font-size="10" text-anchor="middle">0</text>
<rect x="158.2" y="690.3" width="787.2" height="38.2" fill="url(#rb)" stroke="#111" stroke-width="0.9"/>
<path d="M158.2,728.5 V732.3" stroke="#000" stroke-width="1"/>
<text x="158.2" y="743" font-size="10" text-anchor="middle">0</text>
<path d="M315.6,728.5 V732.3" stroke="#000" stroke-width="1"/>
<text x="315.6" y="743" font-size="10" text-anchor="middle">2</text>
<path d="M473.1,728.5 V732.3" stroke="#000" stroke-width="1"/>
<text x="473.1" y="743" font-size="10" text-anchor="middle">4</text>
<path d="M630.5,728.5 V732.3" stroke="#000" stroke-width="1"/>
<text x="630.5" y="743" font-size="10" text-anchor="middle">6</text>
<path d="M788.0,728.5 V732.3" stroke="#000" stroke-width="1"/>
<text x="788.0" y="743" font-size="10" text-anchor="middle">8</text>
<path d="M945.4,728.5 V732.3" stroke="#000" stroke-width="1"/>
<text x="945.4" y="743" font-size="10" text-anchor="middle">10</text>
<text x="557" y="719" font-size="18.8" text-anchor="middle">from 18:40:00 to 18:49:59</text>
</svg></body></html>
